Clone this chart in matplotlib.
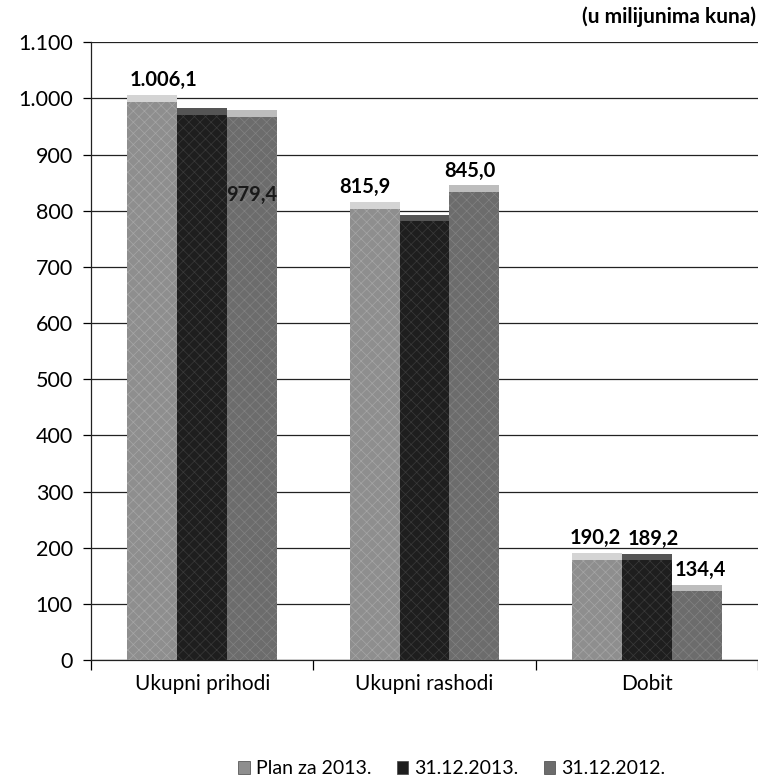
"""
Prihodi, rashodi i dobit -- grouped bar chart (u milijunima kuna).
"""

import matplotlib
matplotlib.use("Agg")
import matplotlib.pyplot as plt
from matplotlib.patches import Patch
import numpy as np

# --- data ------------------------------------------------------------------
categories = ["Ukupni prihodi", "Ukupni rashodi", "Dobit"]
series_names = ["Plan za 2013.", "31.12.2013.", "31.12.2012."]
plan_2013 = [1006.1, 815.9, 190.2]
stanje_2013 = [982.0, 792.8, 189.2]
stanje_2012 = [979.4, 845.0, 134.4]
yticks = list(range(0, 1101, 100))

FONT = ["Lato", "DejaVu Sans"]
plt.rcParams["font.family"] = FONT


def fmt_hr(v, dec=1):
    s = f"{v:,.{dec}f}"
    return s.replace(",", "X").replace(".", ",").replace("X", ".")


def main():
    fig = plt.figure(figsize=(7.58, 7.82), dpi=100)
    ax = fig.add_axes([0.12, 0.156, 0.88, 0.790])

    colors = ["#8e8e8e", "#1e1e1e", "#6c6c6c"]
    caps = ["#d4d4d4", "#555555", "#bdbdbd"]
    hatch_col = ["#a6a6a6", "#3a3a3a", "#828282"]
    data = [plan_2013, stanje_2013, stanje_2012]
    x = np.arange(len(categories))
    w = 0.224
    offsets = [-w, 0, w]

    plt.rcParams["hatch.linewidth"] = 0.5
    for i, vals in enumerate(data):
        xs = x + offsets[i]
        ax.bar(xs, vals, width=w, color=colors[i], edgecolor=hatch_col[i],
               hatch="xxx", lw=0, zorder=3)
        # bevelled top
        ax.bar(xs, [12] * len(vals), bottom=np.array(vals) - 12, width=w,
               color=caps[i], lw=0, zorder=4)

    # data labels (labels of the dark series are invisible in the source);
    # small horizontal nudges follow the label placement of the original
    lab_kw = dict(ha="center", va="bottom", fontsize=14.5, fontweight="bold",
                  textcoords="offset points", zorder=6)
    plan_dx = [8, -7, -1.5]
    for j in range(3):
        ax.annotate(fmt_hr(plan_2013[j]), (x[j] - w, plan_2013[j]),
                    xytext=(plan_dx[j], 3.5), **lab_kw)
    ax.annotate(fmt_hr(stanje_2013[2]), (x[2], stanje_2013[2]),
                xytext=(4.5, 3.5), **lab_kw)
    for j, dx in ((1, -3), (2, 3)):
        ax.annotate(fmt_hr(stanje_2012[j]), (x[j] + w, stanje_2012[j]),
                    xytext=(dx, 3.5), **lab_kw)
    ax.text(x[0] + w, 828, fmt_hr(stanje_2012[0]), ha="center", va="center",
            fontsize=14.5, fontweight="bold", color="#1a1a1a", zorder=6)

    ax.set_ylim(0, 1100)
    ax.set_xlim(-0.5, 2.40)
    ax.set_yticks(yticks)
    ax.set_yticklabels([fmt_hr(t, 0) for t in yticks], fontsize=15.5)
    ax.yaxis.grid(True, color="#222222", lw=0.9, zorder=1)
    ax.set_axisbelow(True)

    ax.set_xticks(x)
    ax.set_xticklabels(categories, fontsize=15)
    ax.set_xticks([-0.5, 0.5, 1.5, 2.5], minor=True)
    ax.tick_params(axis="x", which="major", length=0, pad=10)
    ax.tick_params(axis="x", which="minor", length=7, width=0.9, direction="out")
    ax.tick_params(axis="y", length=6, width=0.9, direction="out", pad=7)

    for s in ("top", "right"):
        ax.spines[s].set_visible(False)
    for s in ("left", "bottom"):
        ax.spines[s].set_color("#222222")
        ax.spines[s].set_linewidth(0.9)

    fig.text(0.997, 0.978, "(u milijunima kuna)", ha="right", va="center",
             fontsize=15, fontweight="bold")

    handles = [Patch(facecolor=c, edgecolor="#444444", lw=0.5) for c in colors]
    fig.legend(handles, series_names, loc="center", bbox_to_anchor=(0.596, 0.017),
               ncol=3, frameon=False, fontsize=14, handlelength=0.6,
               handleheight=0.6, handletextpad=0.3, columnspacing=1.3)

    fig.savefig("out.png", dpi=100, facecolor="white")
    plt.close(fig)


if __name__ == "__main__":
    main()
